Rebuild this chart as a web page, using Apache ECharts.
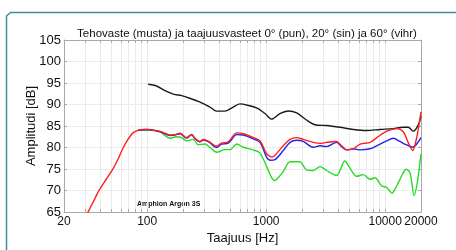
<!DOCTYPE html>
<html>
<head>
<meta charset="utf-8">
<script src="https://cdn.jsdelivr.net/npm/echarts@6/dist/echarts.min.js"></script>
<style>
html, body { margin: 0; padding: 0; background: #fff; }
#chart { width: 456px; height: 250px; }
</style>
</head>
<body>
<div id="chart"></div>
<script>
// taajuusakseli (Hz) ja tasot (dB) luettu kuvasta
const fRed = [30, 32, 35, 38, 40, 45, 52, 58, 63, 69, 76, 84, 92, 100, 106, 120, 132, 156, 171, 189, 214, 236, 252, 278, 296, 329, 384, 422, 480, 566, 642, 780, 888, 1010, 1078, 1112, 1186, 1392, 1586, 1804, 2052, 2486, 2830, 3220, 3900, 4300, 4740, 5400, 6160, 7460, 8500, 10300, 12500, 14200, 15600, 17000, 18400, 20000];
const vRed = [63.7, 65.1, 67.2, 69.2, 70.3, 72.5, 75.2, 77.8, 80.0, 81.9, 83.4, 84.0, 84.2, 84.2, 84.1, 83.9, 83.65, 82.9, 83.0, 83.3, 82.3, 83.05, 82.15, 81.4, 81.85, 81.4, 80.3, 81.0, 81.3, 83.4, 83.2, 82.3, 81.5, 78.5, 77.95, 77.8, 78.2, 80.4, 81.9, 82.3, 81.9, 81.2, 80.95, 81.2, 81.4, 80.4, 79.45, 79.7, 80.8, 81.2, 82.3, 83.8, 84.4, 83.65, 81.2, 79.3, 82.3, 88.3];

const fBlue = [84, 100, 120, 132, 156, 171, 189, 214, 236, 252, 278, 296, 329, 384, 422, 480, 566, 642, 780, 888, 1010, 1078, 1186, 1392, 1586, 1804, 2052, 2486, 2830, 3220, 3900, 4300, 4740, 5400, 6160, 7460, 8500, 10300, 11700, 13300, 15000, 17000, 18400, 20000];
const vBlue = [84.0, 84.2, 83.85, 83.55, 82.8, 82.9, 83.2, 82.2, 82.95, 82.05, 81.3, 81.75, 81.3, 80.0, 80.8, 81.0, 83.0, 82.9, 82.0, 81.2, 77.7, 77.05, 77.2, 79.3, 81.2, 81.7, 81.4, 80.05, 80.4, 80.2, 81.2, 80.2, 79.45, 79.7, 79.45, 79.7, 80.4, 81.55, 82.15, 81.4, 80.65, 80.05, 80.8, 82.3];

const fGreen = [84, 105, 128, 156, 177, 195, 214, 244, 268, 306, 337, 384, 450, 496, 566, 642, 780, 888, 1010, 1112, 1186, 1224, 1392, 1586, 1918, 2180, 2486, 2830, 3220, 3900, 4580, 5060, 5760, 6570, 7460, 8220, 9350, 10300, 11400, 12500, 13700, 15000, 16200, 17500, 18600, 20000];
const vGreen = [84.0, 84.0, 83.65, 82.15, 82.5, 82.3, 81.55, 81.9, 80.65, 80.8, 80.05, 78.9, 79.5, 79.5, 80.8, 80.05, 79.45, 78.7, 75.55, 72.95, 72.3, 72.6, 74.4, 76.7, 76.7, 74.8, 74.65, 75.55, 74.65, 73.5, 76.85, 75.2, 73.3, 73.7, 72.6, 72.95, 71.05, 70.7, 69.4, 71.05, 73.3, 74.95, 74.05, 68.8, 71.8, 78.55];

const fBlack = [102, 120, 141, 166, 195, 228, 278, 337, 384, 450, 514, 602, 706, 830, 978, 1112, 1303, 1532, 1804, 2180, 2570, 3220, 4160, 5400, 7000, 9040, 11700, 14200, 15600, 17300, 19000, 20000];
const vBlack = [94.7, 94.3, 93.2, 92.4, 92.05, 91.45, 90.55, 89.4, 88.45, 88.45, 89.2, 90.15, 89.8, 89.2, 87.9, 86.6, 87.9, 88.5, 88.05, 86.4, 85.3, 85.1, 84.7, 84.2, 83.95, 84.2, 84.4, 84.7, 84.7, 83.8, 85.3, 87.3];

// akselien jaotukset
const xTickValues = [20, 30, 40, 50, 60, 70, 80, 90, 100, 200, 300, 400, 500, 600, 700, 800, 900,
    1000, 2000, 3000, 4000, 5000, 6000, 7000, 8000, 9000, 10000, 20000];
const xLabelValues = [20, 100, 1000, 10000, 20000];

const font = "'Liberation Sans', Arial, sans-serif";
const zip = (fs, vs) => fs.map((f, i) => [f, vs[i]]);

let chart = echarts.init(document.getElementById('chart'));

const lineSeries = (name, fs, vs, color) => ({
    name: name,
    type: 'line',
    data: zip(fs, vs),
    showSymbol: false,
    smooth: 0.3,
    lineStyle: { color: color, width: 1.4 },
    itemStyle: { color: color },
    animation: false
});

chart.setOption({
    animation: false,
    title: [{
        text: 'Tehovaste (musta) ja taajuusvasteet 0° (pun), 20° (sin) ja 60° (vihr)',
        left: 242, top: 23, textAlign: 'center',
        textStyle: { fontFamily: font, fontSize: 11.5, fontWeight: 'normal', color: '#111' }
    }],
    graphic: [{
        type: 'polyline',
        shape: { points: [[6.5, 300], [6.5, 16], [10.5, 12.5], [470, 12.5]] },
        style: { fill: 'none', stroke: '#3b8f9d', lineWidth: 1.5 },
        z: -1
    }, {
        type: 'text',
        left: 137, top: 201,
        style: { text: 'Amphion Argon 3S', font: 'bold 7px ' + font, fill: '#111' }
    }],
    grid: { left: 64, right: 35, top: 40, bottom: 33 },
    xAxis: [{
        type: 'log', logBase: 10, min: 20, max: 20000,
        name: 'Taajuus [Hz]', nameLocation: 'middle', nameGap: 20, nameMoveOverlap: false,
        nameTextStyle: { fontFamily: font, fontSize: 13, color: '#111' },
        axisLine: { lineStyle: { color: '#a8a8a8' } },
        axisTick: { inside: true, length: 3, customValues: xTickValues, lineStyle: { color: '#a8a8a8' } },
        axisLabel: { customValues: xLabelValues, margin: 4, fontFamily: font, fontSize: 12, color: '#111',
            showMinLabel: true, showMaxLabel: true, hideOverlap: false,
            formatter: v => String(Math.round(v)) },
        splitLine: { show: true, lineStyle: { color: '#ebebeb', width: 1 } },
        minorTick: { show: false }
    }, {
        type: 'log', logBase: 10, min: 20, max: 20000, position: 'top',
        axisLine: { lineStyle: { color: '#a8a8a8' } },
        axisTick: { inside: true, length: 3, customValues: xTickValues, lineStyle: { color: '#a8a8a8' } },
        axisLabel: { show: false },
        splitLine: { show: false }
    }],
    yAxis: [{
        type: 'value', min: 65, max: 105, interval: 5,
        name: 'Amplitudi [dB]', nameLocation: 'middle', nameGap: 26, nameMoveOverlap: false,
        nameTextStyle: { fontFamily: font, fontSize: 13, color: '#111' },
        axisLine: { show: true, lineStyle: { color: '#a8a8a8' } },
        axisTick: { show: true, inside: true, length: 3, lineStyle: { color: '#a8a8a8' } },
        axisLabel: { margin: 3, fontFamily: font, fontSize: 13, color: '#111' },
        splitLine: { show: true, lineStyle: { color: '#ebebeb', width: 1 } }
    }, {
        type: 'value', min: 65, max: 105, interval: 5, position: 'right',
        axisLine: { show: true, lineStyle: { color: '#a8a8a8' } },
        axisTick: { show: true, inside: true, length: 3, lineStyle: { color: '#a8a8a8' } },
        axisLabel: { show: false },
        splitLine: { show: false }
    }],
    series: [
        lineSeries('teho', fBlack, vBlack, '#1a1a1a'),
        lineSeries('60°', fGreen, vGreen, '#22dd22'),
        lineSeries('20°', fBlue, vBlue, '#2222ee'),
        lineSeries('0°', fRed, vRed, '#ff1e1e')
    ]
});
</script>
</body>
</html>
